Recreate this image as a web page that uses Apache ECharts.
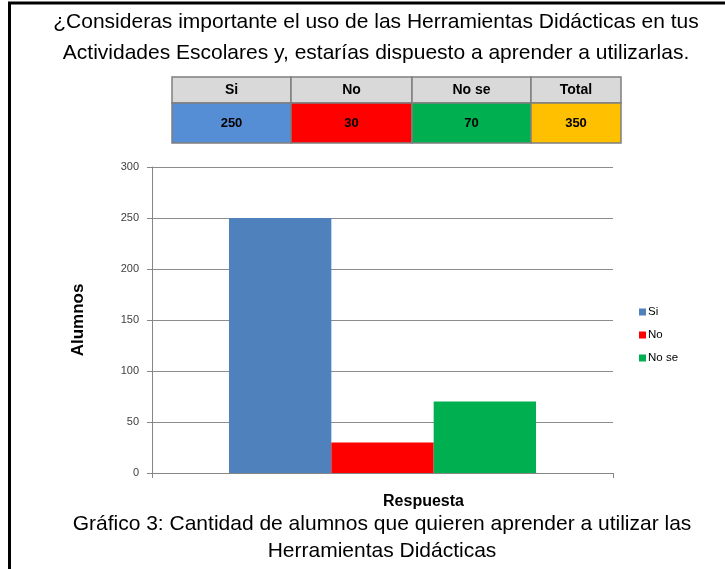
<!DOCTYPE html>
<html>
<head>
<meta charset="utf-8">
<script src="https://cdn.jsdelivr.net/npm/echarts@6/dist/echarts.min.js"></script>
<style>
html, body { margin: 0; padding: 0; background: #fff; }
#main { width: 725px; height: 569px; }
</style>
</head>
<body>
<div id="main"></div>
<script>
// datos
var categorias = ['Si', 'No', 'No se'];
var alumnos = [250, 30, 70];
var total = 350;
var colores = ['#4F81BD', '#FF0000', '#00B050'];
var coloresTabla = ['#558ED5', '#FF0000', '#00B050', '#FFC000'];
var yTicks = [0, 50, 100, 150, 200, 250, 300];

var tituloLineas = [
	'¿Consideras importante el uso de las Herramientas Didácticas en tus',
	'Actividades Escolares y, estarías dispuesto a aprender a utilizarlas.'
];
var pieLineas = [
	'Gráfico 3: Cantidad de alumnos que quieren aprender a utilizar las',
	'Herramientas Didácticas'
];

var fuente = 'Liberation Sans';

// tabla de arriba
var colX = [172, 291, 412, 531, 621];
var filaY = [77, 103, 143];
var encabezados = categorias.concat(['Total']);
var valoresTabla = alumnos.concat([total]);

var graficos = [];
// marco
graficos.push({ type: 'line', shape: { x1: 8, y1: 3, x2: 725, y2: 3 }, style: { stroke: '#000', lineWidth: 3 } });
graficos.push({ type: 'line', shape: { x1: 9.5, y1: 2, x2: 9.5, y2: 569 }, style: { stroke: '#000', lineWidth: 3 } });

// titulo y pie
tituloLineas.forEach(function (t, i) {
	graficos.push({
		type: 'text', x: 376, y: [22, 53][i],
		style: { text: t, font: '21px ' + fuente, fill: '#000', align: 'center', verticalAlign: 'middle' }
	});
});
pieLineas.forEach(function (t, i) {
	graficos.push({
		type: 'text', x: 382, y: [524, 551][i],
		style: { text: t, font: '21px ' + fuente, fill: '#000', align: 'center', verticalAlign: 'middle' }
	});
});

for (var c = 0; c < encabezados.length; c++) {
	var x0 = colX[c], w = colX[c + 1] - colX[c];
	graficos.push({
		type: 'rect', shape: { x: x0, y: filaY[0], width: w, height: filaY[1] - filaY[0] },
		style: { fill: '#D9D9D9', stroke: '#7F7F7F', lineWidth: 1.5 }
	});
	graficos.push({
		type: 'rect', shape: { x: x0, y: filaY[1], width: w, height: filaY[2] - filaY[1] },
		style: { fill: coloresTabla[c], stroke: '#7F7F7F', lineWidth: 1.5 }
	});
	graficos.push({
		type: 'text', x: x0 + w / 2, y: (filaY[0] + filaY[1]) / 2,
		style: { text: encabezados[c], font: 'bold 14px ' + fuente, fill: '#000', align: 'center', verticalAlign: 'middle' }
	});
	graficos.push({
		type: 'text', x: x0 + w / 2, y: (filaY[1] + filaY[2]) / 2,
		style: { text: String(valoresTabla[c]), font: 'bold 13px ' + fuente, fill: '#000', align: 'center', verticalAlign: 'middle' }
	});
}

var series = categorias.map(function (nombre, i) {
	return {
		name: nombre,
		type: 'bar',
		data: [alumnos[i]],
		barGap: '0%',
		barCategoryGap: '33.4%',
		itemStyle: { color: colores[i] },
		emphasis: { disabled: true }
	};
});

var myChart = echarts.init(document.getElementById('main'));
myChart.setOption({
	animation: false,
	textStyle: { fontFamily: fuente },
	grid: { left: 152, right: 112, top: 167, bottom: 96 },
	legend: {
		orient: 'vertical',
		left: 634,
		top: 301,
		itemWidth: 7,
		itemHeight: 7,
		itemGap: 11,
		icon: 'rect',
		textStyle: { fontSize: 11.5, color: '#000', padding: [0, 0, 0, -3] },
		data: categorias
	},
	xAxis: {
		type: 'category',
		data: [''],
		name: 'Respuesta',
		nameLocation: 'middle',
		nameGap: 21,
		nameTextStyle: { fontSize: 16, fontWeight: 'bold', color: '#000', padding: [0, 0, 0, 82] },
		axisLine: { lineStyle: { color: '#868686' } },
		axisTick: { show: true, length: 5, lineStyle: { color: '#868686' } },
		axisLabel: { show: false }
	},
	yAxis: {
		type: 'value',
		min: yTicks[0],
		max: yTicks[yTicks.length - 1],
		interval: 50,
		name: 'Alumnos',
		nameLocation: 'middle',
		nameGap: 65,
		nameTextStyle: { fontSize: 17, fontWeight: 'bold', color: '#000' },
		axisLine: { show: true, lineStyle: { color: '#868686' } },
		axisTick: { show: true, length: 5, lineStyle: { color: '#868686' } },
		axisLabel: { fontSize: 11, color: '#404040', margin: 13 },
		splitLine: { lineStyle: { color: '#8C8C8C' } }
	},
	series: series,
	graphic: graficos
});
</script>
</body>
</html>
